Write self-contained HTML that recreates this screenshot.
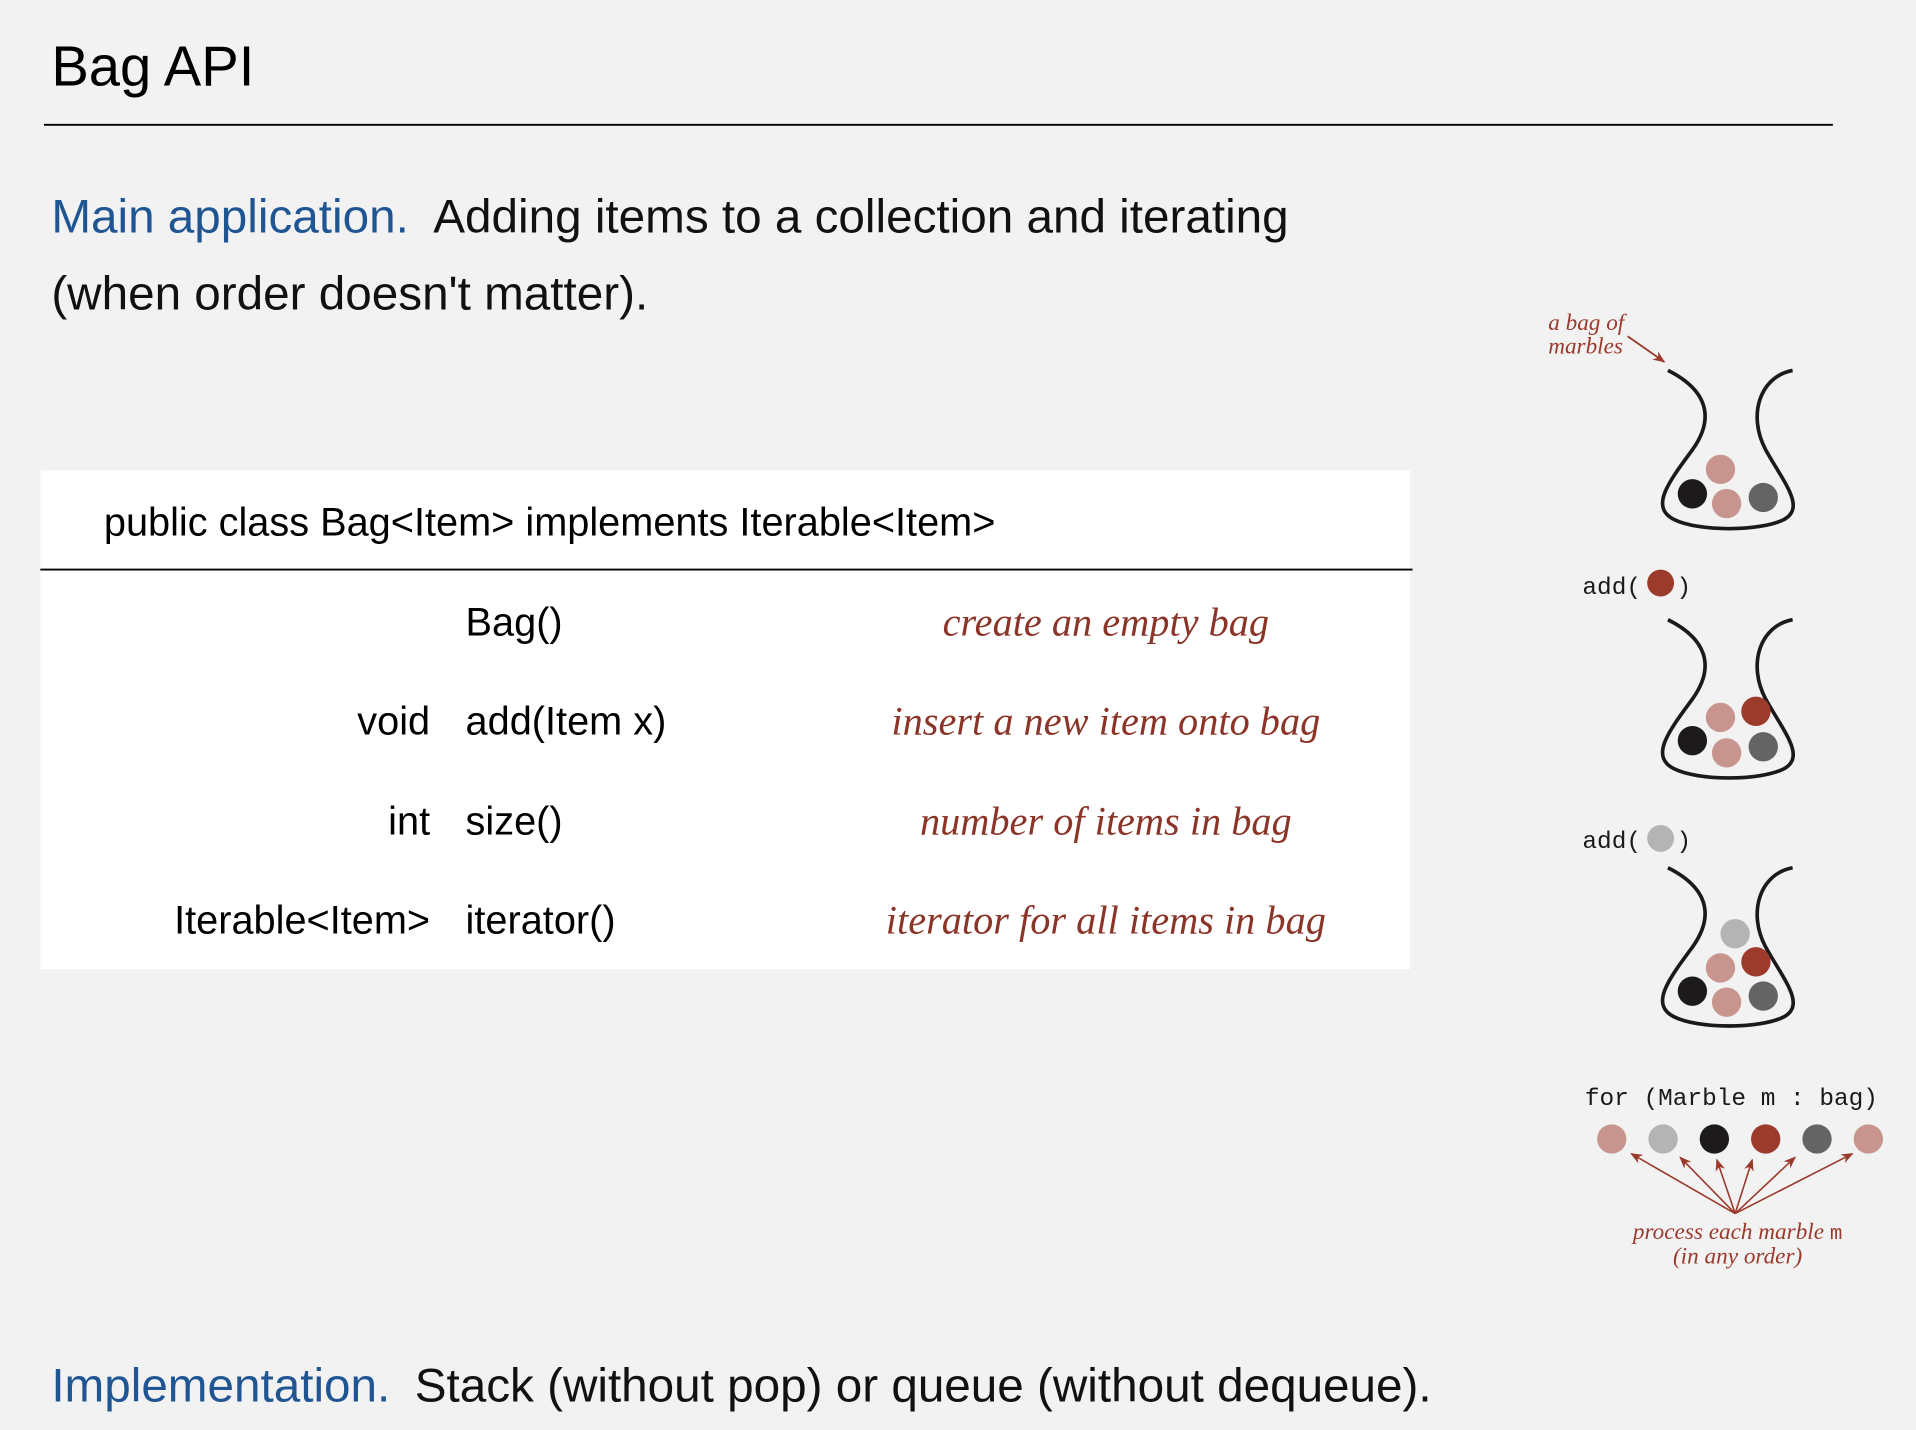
<!DOCTYPE html>
<html><head><style>
html,body{margin:0;padding:0;background:#f2f2f2;}
svg{display:block;}
</style></head><body>
<svg width="1916" height="1430" viewBox="0 0 1568 1170" xmlns="http://www.w3.org/2000/svg">
<defs>
<marker id="ah" markerWidth="10" markerHeight="8" refX="9" refY="4" orient="auto" markerUnits="userSpaceOnUse"><path d="M0,0 L10,4 L0,8 L3,4 z" fill="#9b3a2c"/></marker>
<path id="bag" d="M1365,303 C1395,318 1405,340 1385,368 C1365,395 1350,415 1370,425 C1390,435 1440,435 1460,425 C1478,415 1460,395 1445,368 C1430,340 1440,308 1467,303" fill="none" stroke="#1a1a1a" stroke-width="3"/>
</defs>
<rect width="1568" height="1170" fill="#f2f2f2"/>
<text x="42" y="70" font-family="Liberation Sans, sans-serif" font-size="46" fill="#000">Bag API</text>
<line x1="36" y1="102" x2="1500" y2="102" stroke="#000" stroke-width="1.5"/>
<g font-family="Liberation Sans, sans-serif" font-size="39">
<text x="42" y="190"><tspan fill="#1f5592">Main application.</tspan><tspan fill="#111" dx="20">Adding items to a collection and iterating</tspan></text>
<text x="42" y="253" fill="#111">(when order doesn't matter).</text>
<text x="42" y="1147"><tspan fill="#1f5592">Implementation.</tspan><tspan fill="#111" dx="20">Stack (without pop) or queue (without dequeue).</tspan></text>
</g>
<rect x="33" y="385" width="1121" height="408" fill="#fff"/>
<line x1="33" y1="466" x2="1156" y2="466" stroke="#000" stroke-width="1.5"/>
<g font-family="Liberation Sans, sans-serif" font-size="32.5" fill="#000">
<text x="85" y="438">public class Bag&lt;Item&gt; implements Iterable&lt;Item&gt;</text>
<text x="381" y="520">Bag()</text>
<text x="352" y="601" text-anchor="end">void</text><text x="381" y="601">add(Item x)</text>
<text x="352" y="683" text-anchor="end">int</text><text x="381" y="683">size()</text>
<text x="352" y="764" text-anchor="end">Iterable&lt;Item&gt;</text><text x="381" y="764">iterator()</text>
</g>
<g font-family="Liberation Serif, serif" font-style="italic" font-size="33" fill="#8b3428" text-anchor="middle">
<text x="905" y="520">create an empty bag</text>
<text x="905" y="601">insert a new item onto bag</text>
<text x="905" y="683">number of items in bag</text>
<text x="905" y="764">iterator for all items in bag</text>
</g>
<g font-family="Liberation Serif, serif" font-style="italic" font-size="19" fill="#9b3a2c">
<text x="1267" y="270">a bag of</text><text x="1267" y="289">marbles</text>
</g>
<line x1="1332" y1="275" x2="1362" y2="296" stroke="#9b3a2c" stroke-width="1.5" marker-end="url(#ah)"/>
<use href="#bag"/>
<use href="#bag" transform="translate(0,204)"/>
<use href="#bag" transform="translate(0,407)"/>
<g>
<circle cx="1408" cy="384" r="12" fill="#c8958e"/><circle cx="1385" cy="404" r="12" fill="#1c1a1b"/><circle cx="1413" cy="412" r="12" fill="#c8958e"/><circle cx="1443" cy="407" r="12" fill="#646464"/>
<circle cx="1408" cy="587" r="12" fill="#c8958e"/><circle cx="1437" cy="582" r="12" fill="#9c3a2c"/><circle cx="1385" cy="606" r="12" fill="#1c1a1b"/><circle cx="1413" cy="616" r="12" fill="#c8958e"/><circle cx="1443" cy="611" r="12" fill="#646464"/>
<circle cx="1420" cy="764" r="12" fill="#b4b4b4"/><circle cx="1408" cy="792" r="12" fill="#c8958e"/><circle cx="1437" cy="787" r="12" fill="#9c3a2c"/><circle cx="1385" cy="811" r="12" fill="#1c1a1b"/><circle cx="1413" cy="820" r="12" fill="#c8958e"/><circle cx="1443" cy="815" r="12" fill="#646464"/>
</g>
<g font-family="Liberation Mono, monospace" font-size="20" fill="#1a1a1a">
<text x="1295" y="486">add(</text><text x="1372" y="486">)</text>
<text x="1295" y="694">add(</text><text x="1372" y="694">)</text>
<text x="1297" y="904">for (Marble m : bag)</text>
</g>
<circle cx="1359" cy="477" r="11" fill="#9c3a2c"/>
<circle cx="1359" cy="686" r="11" fill="#b4b4b4"/>
<circle cx="1319" cy="932" r="12" fill="#c8958e"/><circle cx="1361" cy="932" r="12" fill="#b4b4b4"/><circle cx="1403" cy="932" r="12" fill="#1c1a1b"/><circle cx="1445" cy="932" r="12" fill="#9c3a2c"/><circle cx="1487" cy="932" r="12" fill="#646464"/><circle cx="1529" cy="932" r="12" fill="#c8958e"/>
<g stroke="#9b3a2c" stroke-width="1.3" marker-end="url(#ah)">
<line x1="1420" y1="993" x2="1335" y2="944"/>
<line x1="1420" y1="993" x2="1375" y2="947"/>
<line x1="1420" y1="993" x2="1405" y2="949"/>
<line x1="1420" y1="993" x2="1434" y2="949"/>
<line x1="1420" y1="993" x2="1469" y2="947"/>
<line x1="1420" y1="993" x2="1516" y2="944"/>
</g>
<g font-family="Liberation Serif, serif" font-style="italic" font-size="19" fill="#9b3a2c" text-anchor="middle">
<text x="1422" y="1014">process each marble <tspan font-family="Liberation Mono, monospace" font-style="normal" font-size="17">m</tspan></text>
<text x="1422" y="1034">(in any order)</text>
</g>
</svg>
</body></html>
